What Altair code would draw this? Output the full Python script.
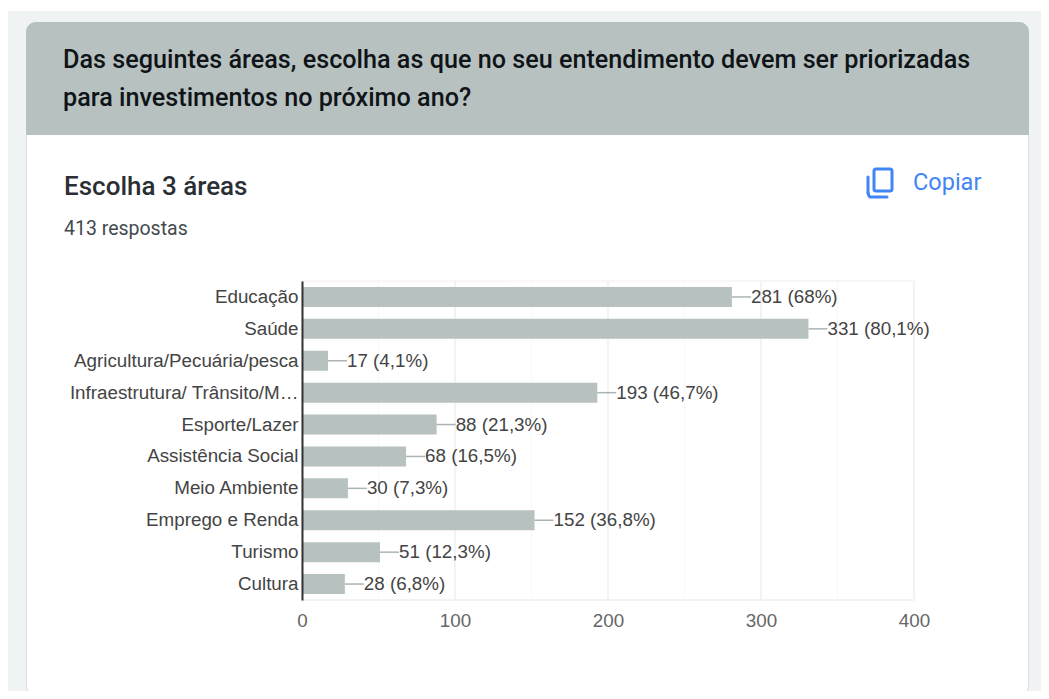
import altair as alt
import pandas as pd

categories = ["Educação", "Saúde", "Agricultura/Pecuária/pesca", "Infraestrutura/ Trânsito/M…",
              "Esporte/Lazer", "Assistência Social", "Meio Ambiente", "Emprego e Renda", "Turismo", "Cultura"]
values = [281, 331, 17, 193, 88, 68, 30, 152, 51, 28]
labels = ["281 (68%)", "331 (80,1%)", "17 (4,1%)", "193 (46,7%)", "88 (21,3%)", "68 (16,5%)",
          "30 (7,3%)", "152 (36,8%)", "51 (12,3%)", "28 (6,8%)"]
major_ticks = [0, 100, 200, 300, 400]
minor_ticks = [50, 150, 250, 350]

title_lines = ["Das seguintes áreas, escolha as que no seu entendimento devem ser priorizadas",
               "para investimentos no próximo ano?"]
subtitle = "Escolha 3 áreas"
responses = "413 respostas"
copy_text = "Copiar"

BAR = "#b7c2c0"
BLUE = "#4285f4"
X0, Y0 = 302, 281
W, H = 612, 319
FONT = "Liberation Sans"
UI = "Roboto"
SIZE = 18.8

df = pd.DataFrame({"cat": categories, "v": values, "lab": labels})
one = alt.Data(values=[{"k": 1}])


def px(v):
    return alt.value(v - X0)


def py(v):
    return alt.value(v - Y0)


def box(x1, y1, x2, y2, **kw):
    return alt.Chart(one).mark_rect(**kw).encode(x=px(x1), x2=px(x2), y=py(y1), y2=py(y2))


def line(x1, y1, x2, y2, color, width):
    return alt.Chart(one).mark_rule(color=color, strokeWidth=width, strokeCap="round").encode(
        x=px(x1), x2=px(x2), y=py(y1), y2=py(y2))


def label(t, x, y, size, color, weight=400, font=UI):
    return alt.Chart(one).mark_text(text=t, align="left", baseline="alphabetic", fontSize=size,
                                    color=color, fontWeight=weight, font=font).encode(x=px(x), y=py(y))


x_scale = alt.Scale(domain=[0, 400], nice=False, zero=True)
y_scale = alt.Scale(domain=categories, paddingInner=0.38, paddingOuter=0.19)
x_axis = alt.Axis(values=major_ticks, title=None, grid=False, ticks=False, domain=False, labelFont=FONT,
                  labelFontSize=SIZE, labelColor="#666666", labelPadding=11, labelAngle=0, zindex=1,
                  labelFlush=False, labelOverlap=False)
y_axis = alt.Axis(title=None, grid=False, ticks=False, domain=True, domainColor="#333333", domainWidth=2,
                  labelFont=FONT, labelFontSize=SIZE, labelColor="#444444", labelPadding=4, labelLimit=300,
                  zindex=1)


def X(field):
    return alt.X(field, scale=x_scale, axis=x_axis)


Y = alt.Y("cat:N", sort=categories, scale=y_scale, axis=y_axis)

decor = [
    box(8, 11, 1049, 699, color="#eff3f4"),
    box(26.5, 22.5, 1028.5, 695.5, color="#ffffff", stroke="#dadce0", strokeWidth=1, cornerRadius=10),
    box(26, 22, 1029, 135, color="#b7c2c0", cornerRadiusTopLeft=10, cornerRadiusTopRight=10),
    label(title_lines[0], 63, 68, 25.2, "#101418", 500),
    label(title_lines[1], 63, 106, 25.2, "#101418", 500),
    label(subtitle, 64, 195, 26, "#2b2f33", 500),
    label(responses, 64, 235, 19.5, "#444a4f"),
    label(copy_text, 913, 190, 23.5, BLUE, 400),
    box(874, 169, 892, 191, filled=False, fill="transparent", stroke=BLUE, strokeWidth=3, cornerRadius=2),
    line(868, 177, 868, 193, BLUE, 3),
    line(868, 193, 869, 196, BLUE, 3),
    line(870, 197, 887, 197, BLUE, 3),
]

grid_minor = alt.Chart(alt.Data(values=[{"t": t} for t in minor_ticks])).mark_rule(
    color="#f8f8f8", strokeWidth=1).encode(x=X("t:Q"))
grid_major = alt.Chart(alt.Data(values=[{"t": t} for t in major_ticks])).mark_rule(
    color="#efefef", strokeWidth=1.5).encode(x=X("t:Q"))
top_edge = line(X0, 281, X0 + W, 281, "#f4f4f4", 1.5)
bottom_edge = line(X0, 600, X0 + W, 600, "#efefef", 1.5)

base = alt.Chart(df)
bars = base.mark_bar(color=BAR, size=20).encode(x=X("v:Q"), y=Y)
leaders = base.mark_rule(color="#aab5b3", strokeWidth=1.5, x2Offset=19).encode(x=X("v:Q"), x2="v:Q", y=Y)
texts = base.mark_text(align="left", baseline="middle", dx=19, font=FONT, fontSize=SIZE, color="#444444").encode(
    x=X("v:Q"), y=Y, text="lab:N")

chart = alt.layer(*decor, grid_minor, grid_major, top_edge, bottom_edge, leaders, bars, texts).properties(
    width=W, height=H,
    autosize=alt.AutoSizeParams(type="none"),
    padding={"left": X0 - 8, "top": Y0 - 8, "right": 1033 - (X0 - 8) - W, "bottom": 683 - (Y0 - 8) - H},
    background="#ffffff",
).configure_view(stroke=None)

chart.save("out.html", embed_options={"renderer": "svg", "actions": False})
